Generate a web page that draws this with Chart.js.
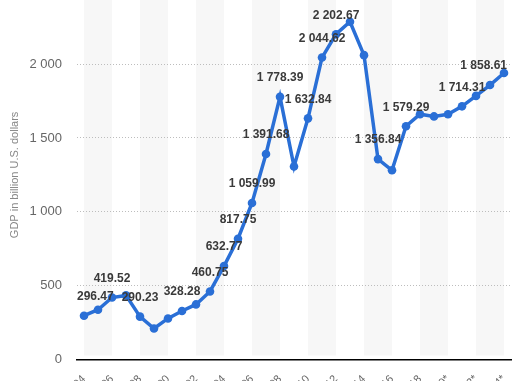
<!DOCTYPE html>
<html>
<head>
<meta charset="utf-8">
<script src="https://cdn.jsdelivr.net/npm/chart.js@4/dist/chart.umd.min.js"></script>
<style>
  html, body { margin: 0; padding: 0; background: #fff; overflow: hidden; width: 523px; height: 381px; }
  #wrap { position: absolute; left: 0; top: -14px; width: 523px; height: 422px; }
</style>
</head>
<body>
<div id="wrap"><canvas id="c" width="523" height="422"></canvas></div>
<script>
// ---- data ----
const categories = ["'94","'95","'96","'97","'98","'99","'00","'01","'02","'03","'04","'05","'06","'07","'08","'09","'10","'11","'12","'13","'14","'15","'16","'17","'18","'19*","'20*","'21*","'22*","'23*","'24*"];
const gdpValues = [296.47, 337, 419.52, 434, 290.23, 210, 278, 328.28, 373, 460.75, 632.77, 817.75, 1059.99, 1391.68, 1778.39, 1307, 1632.84, 2044.62, 2202.67, 2287, 2061, 1356.84, 1281, 1579.29, 1661, 1646, 1661, 1714.31, 1785, 1858.61, 1940];
const labeledPoints = [0, 2, 4, 7, 9, 10, 11, 12, 13, 14, 16, 17, 18, 21, 23, 27, 29];
const yTicks = [0, 500, 1000, 1500, 2000];
const yTitle = 'GDP in billion U.S. dollars';

function fmt(v, dec) {
  const parts = v.toFixed(dec).split('.');
  parts[0] = parts[0].replace(/\B(?=(\d{3})+(?!\d))/g, ' ');
  return parts.join('.');
}

const LINE = '#2a6fd6';

const stripes = {
  id: 'stripes',
  beforeDraw(chart) {
    const { ctx, chartArea: a, scales: { x } } = chart;
    ctx.save();
    ctx.fillStyle = '#f7f7f7';
    for (let i = 0; i + 2 < categories.length; i += 4) {
      const x0 = x.getPixelForValue(i), x1 = x.getPixelForValue(i + 2);
      ctx.fillRect(x0, 0, x1 - x0, a.bottom - 4);
    }
    ctx.restore();
  }
};

const dataLabels = {
  id: 'dataLabels',
  afterDatasetsDraw(chart) {
    const { ctx, chartArea: a } = chart;
    const meta = chart.getDatasetMeta(0);
    ctx.save();
    ctx.font = 'bold 12px "Liberation Sans", Arial, sans-serif';
    ctx.fillStyle = '#3a3a3a';
    ctx.textAlign = 'center';
    ctx.textBaseline = 'middle';
    labeledPoints.forEach(i => {
      const p = meta.data[i];
      const t = fmt(gdpValues[i], 2);
      const w = ctx.measureText(t).width;
      let cx = p.x;
      cx = Math.max(cx, a.left + w / 2);
      cx = Math.min(cx, a.right - 4 - w / 2);
      ctx.fillText(t, cx, p.y - 19);
    });
    ctx.restore();
  }
};

new Chart(document.getElementById('c'), {
  type: 'line',
  data: {
    labels: categories,
    datasets: [{
      data: gdpValues,
      borderColor: LINE,
      backgroundColor: LINE,
      borderWidth: 3.5,
      pointRadius: 4.3,
      pointBackgroundColor: LINE,
      pointBorderWidth: 0,
      tension: 0
    }]
  },
  options: {
    responsive: false,
    animation: false,
    devicePixelRatio: 1,
    layout: { padding: { left: 0, right: 12, top: 0, bottom: 0 } },
    plugins: { legend: { display: false }, tooltip: { enabled: false } },
    scales: {
      x: {
        offset: true,
        afterFit: s => { s.paddingLeft = 0; s.paddingRight = 0; },
        grid: { display: false, drawTicks: false },
        border: { display: true, color: '#000', width: 1.5 },
        ticks: {
          autoSkip: false, minRotation: 45, maxRotation: 45, padding: 13,
          color: '#666', font: { size: 11, family: '"Liberation Sans", Arial, sans-serif' },
          callback: (v, i) => (i % 2 === 0 ? categories[i] : '')
        }
      },
      y: {
        min: 0, max: 2500,
        afterBuildTicks: s => { s.ticks = yTicks.map(v => ({ value: v })); },
        afterFit: s => { s.paddingTop = 0; s.paddingBottom = 0; s.width = 77; },
        grid: {
          drawTicks: false,
          color: c => (c.tick && c.tick.value === 0 ? 'rgba(0,0,0,0)' : '#bdbdbd'),
          lineWidth: 1
        },
        border: { display: false, dash: [1, 2] },
        ticks: {
          padding: 15, color: '#666',
          font: { size: 13, family: '"Liberation Sans", Arial, sans-serif' },
          callback: v => fmt(v, 0)
        },
        title: {
          display: true, text: yTitle, color: '#888',
          font: { size: 11, family: '"Liberation Sans", Arial, sans-serif' },
          padding: { top: 8, bottom: 8 }
        }
      }
    }
  },
  plugins: [stripes, dataLabels]
});
</script>
</body>
</html>
